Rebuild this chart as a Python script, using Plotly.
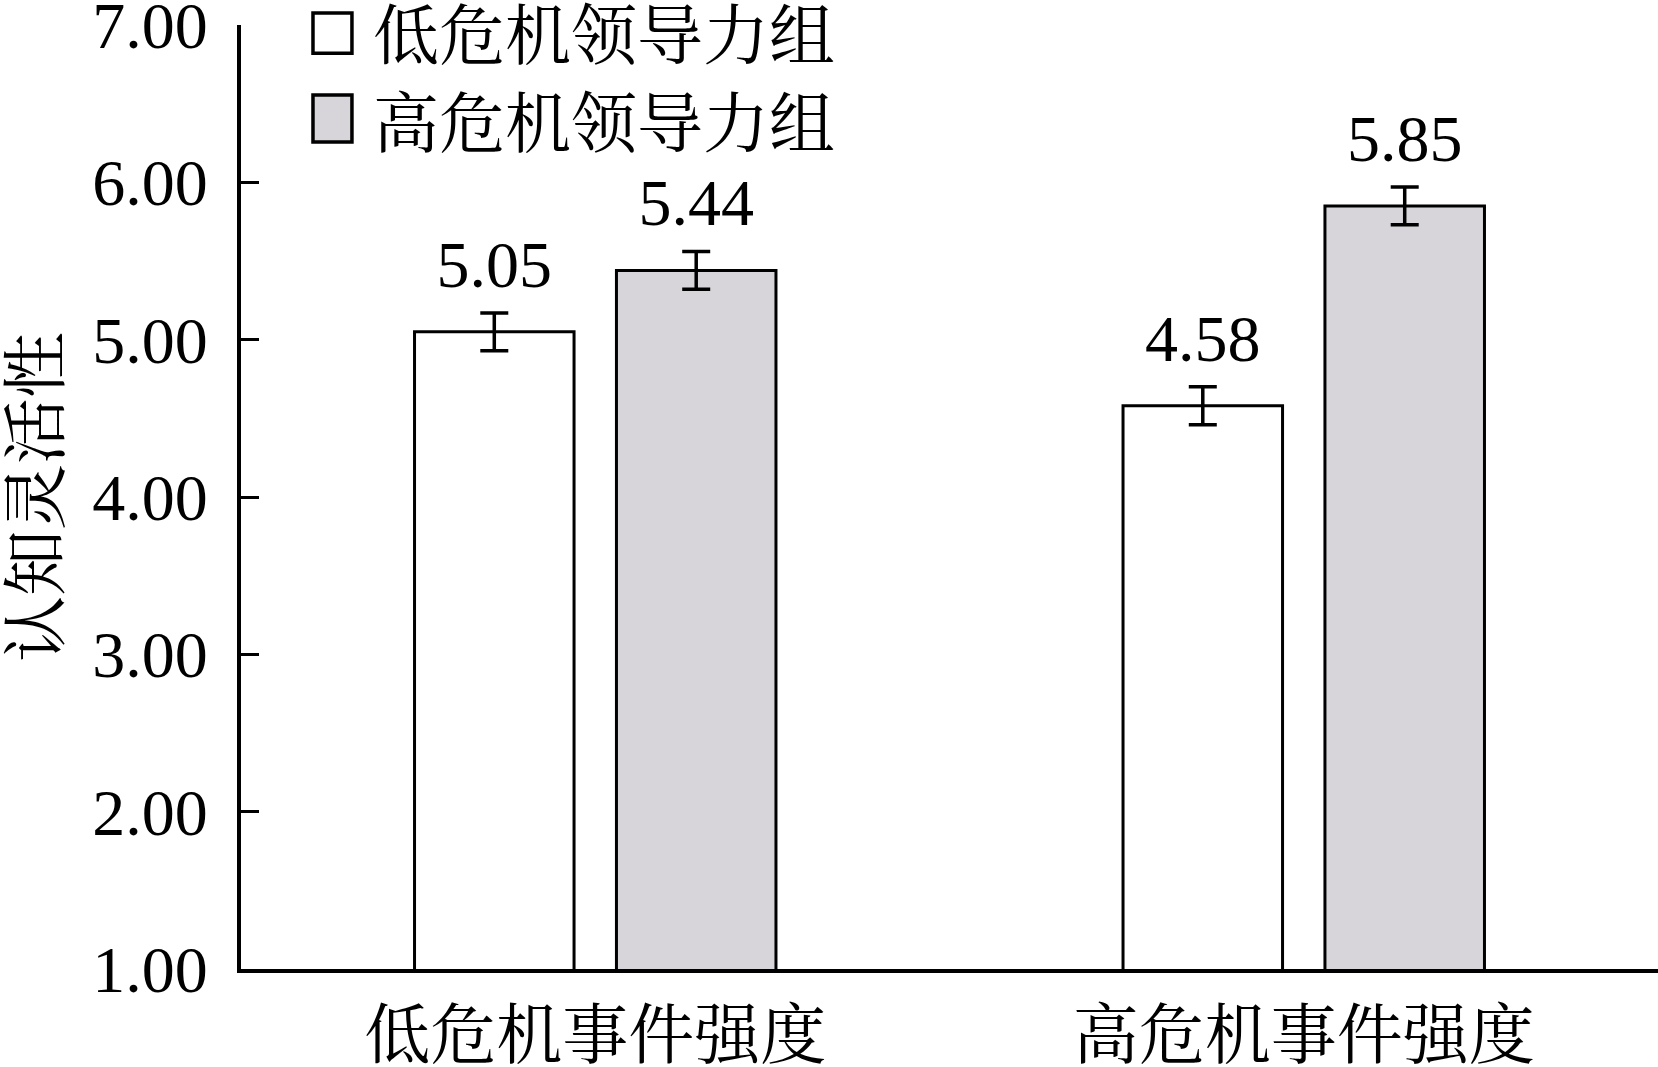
import plotly.graph_objects as go

# data
categories = ["低危机事件强度", "高危机事件强度"]
series_names = ["低危机领导力组", "高危机领导力组"]
low_leader = [5.05, 4.58]
high_leader = [5.44, 5.85]
low_err = [0.12, 0.12]
high_err = [0.12, 0.12]
y_ticks = [1, 2, 3, 4, 5, 6, 7]

FONT = "Times New Roman, Liberation Serif, Noto Serif CJK SC, Noto Sans CJK SC, serif"
colors = ["#ffffff", "#d7d5d9"]
GAP = 0.43

fig = go.Figure()

series = [(low_leader, low_err), (high_leader, high_err)]
for i, (vals, errs) in enumerate(series):
    fig.add_trace(go.Bar(
        x=categories,
        y=vals,
        name=series_names[i],
        offsetgroup=str(i),
        marker=dict(color=colors[i], line=dict(color="black", width=3)),
        error_y=dict(type="data", array=errs, color="black", thickness=3.5, width=14),
        showlegend=False,
    ))

# value labels above the error bars (invisible marker just pushes the text up a bit)
for i, (vals, errs) in enumerate(series):
    fig.add_trace(go.Scatter(
        x=categories,
        y=[v + e for v, e in zip(vals, errs)],
        mode="markers+text",
        offsetgroup=str(i),
        text=[f"{v:.2f}" for v in vals],
        textposition="top center",
        textfont=dict(family=FONT, size=66, color="black"),
        marker=dict(size=14, opacity=0),
        showlegend=False,
        hoverinfo="skip",
    ))

# hand-drawn legend (large square keys like the original)
legend_box = [(1.0127, 0.970), (0.9258, 0.876)]
legend_text_y = [0.9873, 0.895]
for i, name in enumerate(series_names):
    y0, y1 = legend_box[i]
    fig.add_shape(type="rect", xref="paper", yref="paper",
                  x0=0.0508, x1=0.0783, y0=y1, y1=y0,
                  fillcolor=colors[i], line=dict(color="black", width=3.5))
    fig.add_annotation(xref="paper", yref="paper", x=0.0915, y=legend_text_y[i],
                       text=name, showarrow=False, xanchor="left", yanchor="middle",
                       font=dict(family=FONT, size=66, color="black"))

fig.update_layout(
    width=1658,
    height=1067,
    margin=dict(l=241, r=0, t=25, b=98),
    plot_bgcolor="white",
    paper_bgcolor="white",
    barmode="group",
    bargap=GAP,
    bargroupgap=0.21,
    scattermode="group",
    scattergap=GAP,
    font=dict(family=FONT, size=66, color="black"),
)

fig.update_xaxes(
    type="category",
    range=[-0.5, 1.5],
    automargin=False,
    showline=True, linecolor="black", linewidth=4,
    ticks="", showgrid=False, zeroline=False,
    tickfont=dict(family=FONT, size=66),
    ticklabelstandoff=6,
)

fig.update_yaxes(
    range=[1, 7],
    tickvals=y_ticks,
    tickformat=".2f",
    automargin=False,
    ticklabeloverflow="allow",
    showline=True, linecolor="black", linewidth=4,
    ticks="inside", ticklen=18, tickwidth=3, tickcolor="black",
    showgrid=False, zeroline=False,
    tickfont=dict(family=FONT, size=66),
    ticklabelstandoff=16,
    title=dict(text="认知灵活性", font=dict(family=FONT, size=66), standoff=24),
)

# the page has a default 8px body margin; remove it so the chart fills the window
fig.write_html("out.html", config={"displayModeBar": False},
               post_script="document.body.style.margin='0';")
